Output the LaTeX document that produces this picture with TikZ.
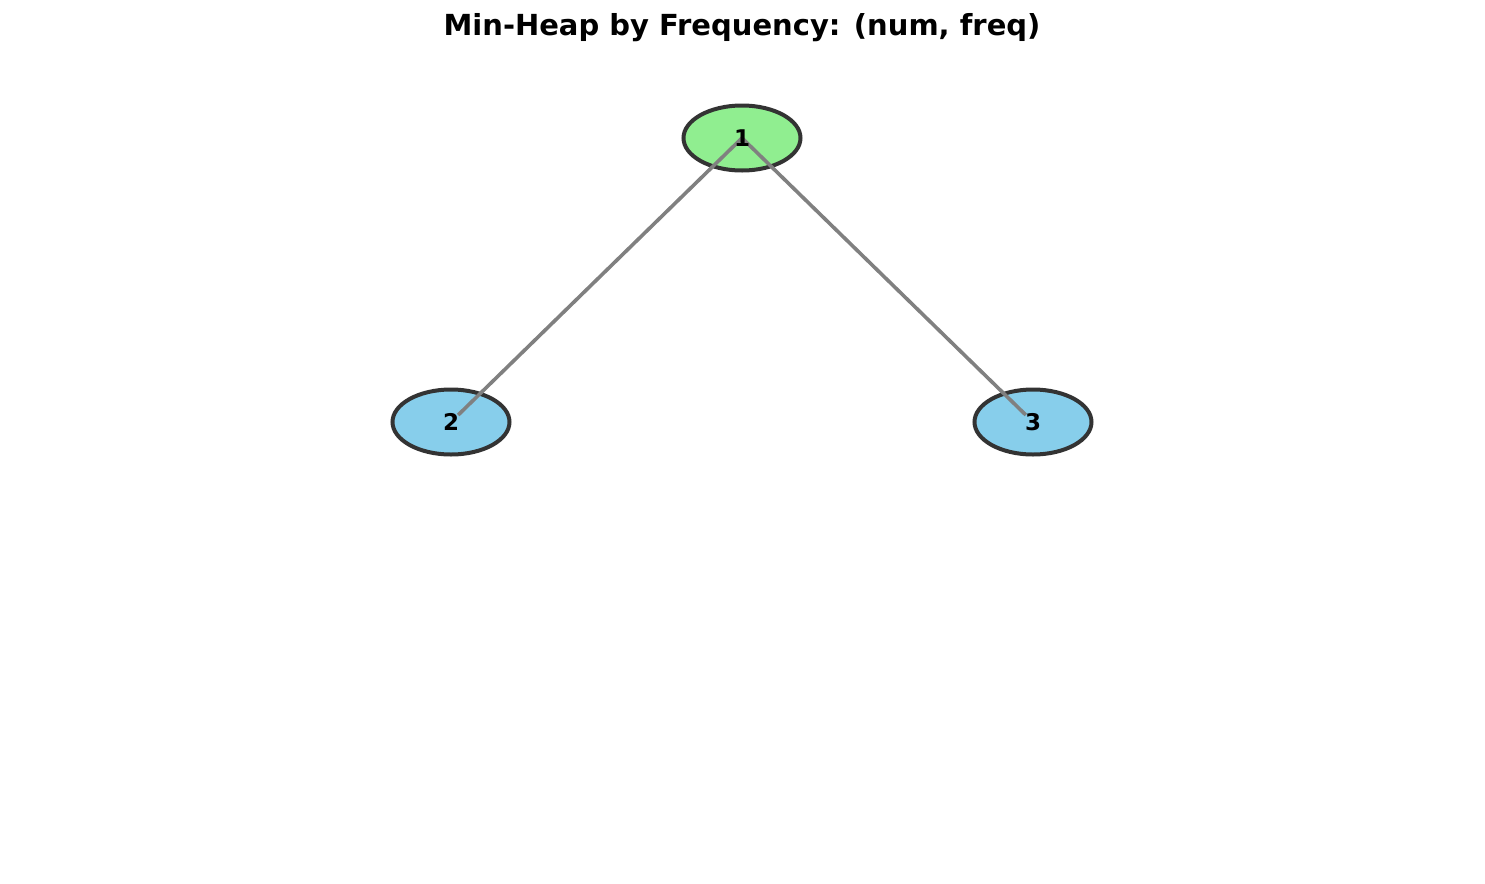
\documentclass[tikz,border=0pt]{standalone}
\usepackage{fontspec}
\setmainfont{DejaVu Sans}
\usetikzlibrary{shapes.geometric}
\definecolor{nodegreen}{HTML}{90EE90}
\definecolor{nodeblue}{HTML}{87CEEB}
\definecolor{edgegray}{HTML}{808080}
\definecolor{border}{HTML}{333333}
\begin{document}
\begin{tikzpicture}[x=0.5pt,y=-0.5pt,
  heapnode/.style={ellipse, draw=border, line width=2pt, minimum width=58.5pt, minimum height=32.5pt, inner sep=0pt},
  heapedge/.style={draw=edgegray, line width=1.8pt, shorten >=5pt},
  heaplabel/.style={font=\bfseries\fontsize{11.5}{13}\selectfont, inner sep=0pt}]
\useasboundingbox (0,0) rectangle (1485,884);
\node[font=\bfseries\fontsize{14.5}{17}\selectfont] (title) at (742,28) {Min-Heap by Frequency: (num, freq)};
\node[heapnode, fill=nodegreen] (n1) at (742,138) {};
\node[heapnode, fill=nodeblue] (n2) at (451,422) {};
\node[heapnode, fill=nodeblue] (n3) at (1033,422) {};
\draw[heapedge] (n1.center) -- (n2.center);
\draw[heapedge] (n1.center) -- (n3.center);
\node[heaplabel] (l1) at (n1) {1};
\node[heaplabel] (l2) at (n2) {2};
\node[heaplabel] (l3) at (n3) {3};
\end{tikzpicture}
\end{document}
